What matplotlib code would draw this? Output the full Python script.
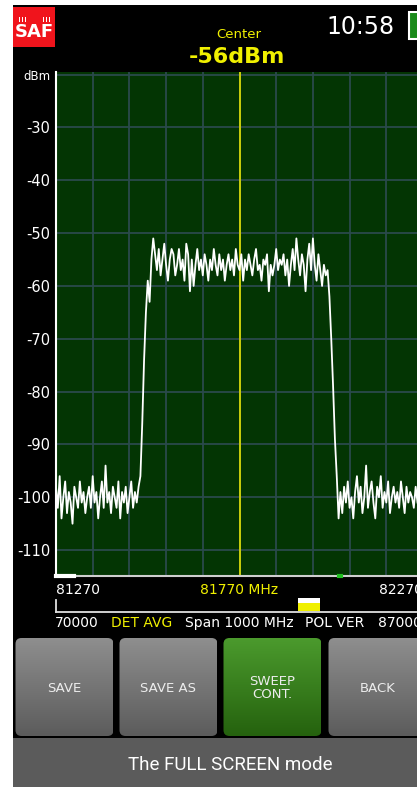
import numpy as np
import matplotlib
matplotlib.use("Agg")
import matplotlib.pyplot as plt
from matplotlib.patches import Rectangle, FancyBboxPatch

# ---------------- data ----------------
start_mhz = 81270
stop_mhz = 82270
center_mhz = 81770
visible_stop_mhz = 82255

level_dbm = [
    # noise floor left
    -98, -102, -96, -104, -100, -97, -103, -99, -101, -105,
    -98, -100, -102, -97, -101, -99, -103, -100, -98, -102,
    -96, -101, -99, -104, -100, -97, -102, -94, -101, -99,
    -103, -98, -100, -102, -97, -104, -99, -101, -98, -103,
    -100, -97, -102, -99, -101, -98,
    # rising edge
    -96, -86, -74, -65, -59, -63, -55, -51,
    # signal band
    -54, -57, -53, -58, -55, -52, -56, -59, -55, -53,
    -54, -58, -56, -53, -57, -55, -59, -52, -54, -61,
    -55, -60, -56, -53, -57, -55, -58, -54, -56, -59,
    -55, -57, -53, -56, -58, -54, -57, -55, -59, -56,
    -54, -57, -55, -58, -53, -56, -57, -54, -59, -55,
    -57, -54, -56, -58, -55, -53, -57, -56, -59, -55,
    -56, -54, -61, -56, -58, -56, -53, -57, -55, -56,
    -54, -58, -55, -60, -56, -53, -57, -51, -55, -58,
    -54, -56, -61, -55, -52, -57, -51, -56, -59, -54,
    -57, -60, -56, -58, -57,
    # falling edge
    -62, -70, -79, -89, -96, -104,
    # noise floor right
    -99, -103, -98, -101, -97, -102, -100, -104, -99, -96,
    -101, -98, -103, -100, -94, -102, -99, -97, -101, -104,
    -98, -100, -96, -102, -99, -101, -97, -103, -100, -98,
    -101, -99, -102, -97, -100, -103, -98, -101, -99, -100,
    -102, -98, -101,
]
freq_mhz = np.linspace(start_mhz, visible_stop_mhz, len(level_dbm))

y_ticks = [-110, -100, -90, -80, -70, -60, -50, -40, -30, -20]
y_tick_labels = ["-110", "-100", "-90", "-80", "-70", "-60", "-50", "-40", "-30", "dBm"]
x_tick_vals = [start_mhz, center_mhz, stop_mhz]
x_tick_labels = ["81270", "81770 MHz", "82270"]

center_label = "Center"
center_value = "-56dBm"
clock = "10:58"
status_items = [("70000", "white"), ("DET AVG", "#f0f000"), ("Span 1000 MHz", "white"),
                ("POL VER", "white"), ("87000", "white")]
status_x = [55, 111, 185, 305, 378]
buttons = ["SAVE", "SAVE AS", "SWEEP\nCONT.", "BACK"]
caption = "The FULL SCREEN mode"

# ---------------- figure ----------------
W, H = 417, 787
fig = plt.figure(figsize=(W / 100, H / 100), dpi=100, facecolor="white")

bg = fig.add_axes([0, 0, 1, 1], zorder=0)
bg.set_xlim(0, W)
bg.set_ylim(H, 0)
bg.axis("off")

# black screen and caption bar
bg.add_patch(Rectangle((13, 5), W - 13, 733, color="black", lw=0))
bg.add_patch(Rectangle((13, 738), W - 13, H - 738, color="#5b5b5b", lw=0))
bg.text(230, 765, caption, color="white", fontsize=13.5, family="Roboto",
        ha="center", va="center")

# SAF logo
bg.add_patch(Rectangle((13, 7), 42, 40, color="#f0141c", lw=0))
bg.text(34.5, 32, "SAF", color="white", fontsize=13, fontweight="bold",
        ha="center", va="center", family="DejaVu Sans")
for bx in [19, 22, 25, 43, 46, 49]:
    bg.add_patch(Rectangle((bx, 17), 1.5, 5, color="white", lw=0))

# header texts
bg.text(239, 34, center_label, color="#f0f000", fontsize=9.5, ha="center", va="center")
bg.text(237, 57, center_value, color="#f0f000", fontsize=16, fontweight="bold",
        ha="center", va="center")
bg.text(361, 27, clock, color="white", fontsize=17, ha="center", va="center")
# battery
bg.add_patch(Rectangle((409, 12), 10, 27, facecolor="#1a8a1a", edgecolor="white", lw=1.5))

# slider under the axis
bg.plot([56, W], [612, 612], color="#e0e0e0", lw=1.3)
bg.plot([56, 56], [600, 612], color="#e0e0e0", lw=1.3)
bg.add_patch(Rectangle((298, 598), 22, 5, color="white", lw=0))
bg.add_patch(Rectangle((298, 603), 22, 8, color="#f0f000", lw=0))

# status row
for (txt, col), xx in zip(status_items, status_x):
    bg.text(xx, 623, txt, color=col, fontsize=10, ha="left", va="center")

# buttons
btn_x = [15.5, 119.5, 223.5, 328.5]
btn_w = 98
for i, (label, bx) in enumerate(zip(buttons, btn_x)):
    patch = FancyBboxPatch((bx + 5, 643), btn_w - 10, 88,
                           boxstyle="round,pad=5,rounding_size=6",
                           facecolor="none", edgecolor="none")
    bg.add_patch(patch)
    if i == 2:
        top, bot = np.array([0x4b, 0x9a, 0x2d]) / 255, np.array([0x25, 0x62, 0x0e]) / 255
    else:
        top, bot = np.array([0x8e, 0x8e, 0x8e]) / 255, np.array([0x5c, 0x5c, 0x5c]) / 255
    t = np.linspace(0, 1, 64)[:, None]
    grad = (top[None, :] * (1 - t) + bot[None, :] * t)[:, None, :]
    im = bg.imshow(grad, extent=(bx, bx + btn_w, 736, 638), origin="upper",
                   aspect="auto", interpolation="bilinear", zorder=1)
    im.set_clip_path(patch)
    bg.text(bx + btn_w / 2, 688, label, color="#ececec", fontsize=9.5,
            ha="center", va="center", linespacing=1.0, zorder=3)
bg.set_xlim(0, W)
bg.set_ylim(H, 0)

# ---------------- spectrum axes ----------------
left, right_px, top_px, bot_px = 56, 423, 72, 576
ax = fig.add_axes([left / W, 1 - bot_px / H, (right_px - left) / W, (bot_px - top_px) / H],
                  zorder=2)
ax.set_facecolor("#033503")
ax.set_xlim(start_mhz, stop_mhz)
ax.set_ylim(-114.9, -19.5)

ax.set_xticks(np.arange(start_mhz, stop_mhz + 1, 100), minor=True)
ax.set_xticks(x_tick_vals)
ax.set_xticklabels(x_tick_labels)
ax.set_yticks(y_ticks)
ax.set_yticklabels(y_tick_labels)
ax.grid(True, which="both", axis="x", color="#2a4a4c", lw=1.3)
ax.grid(True, which="major", axis="y", color="#2a4a4c", lw=1.3)
ax.set_axisbelow(True)
ax.tick_params(axis="both", which="both", length=0)
ax.tick_params(axis="y", colors="white", labelsize=10.5, pad=4)
ax.tick_params(axis="x", colors="white", labelsize=10, pad=5)

xl = ax.get_xticklabels()
for lab, ha, col in zip(xl, ["left", "center", "right"], ["white", "#f0f000", "white"]):
    lab.set_ha(ha)
    lab.set_color(col)
yl = ax.get_yticklabels()
yl[-1].set_fontsize(8.5)

for s in ["top", "right"]:
    ax.spines[s].set_visible(False)
ax.spines["left"].set_color("white")
ax.spines["left"].set_linewidth(1.5)
ax.spines["bottom"].set_color("#cfcfcf")
ax.spines["bottom"].set_linewidth(1.5)

ax.axvline(center_mhz, color="#e6e600", lw=1.2, zorder=2)
ax.plot(freq_mhz, level_dbm, color="white", lw=1.3, zorder=3)

# small markers on the bottom axis
ax.plot([0, 0.048], [0, 0], transform=ax.transAxes, color="white", lw=3, clip_on=False, zorder=4)
ax.plot([0.772, 0.776], [0, 0], transform=ax.transAxes, color="#20c020", lw=3, clip_on=False, zorder=4)

fig.savefig("out.png", dpi=100, facecolor="white")
